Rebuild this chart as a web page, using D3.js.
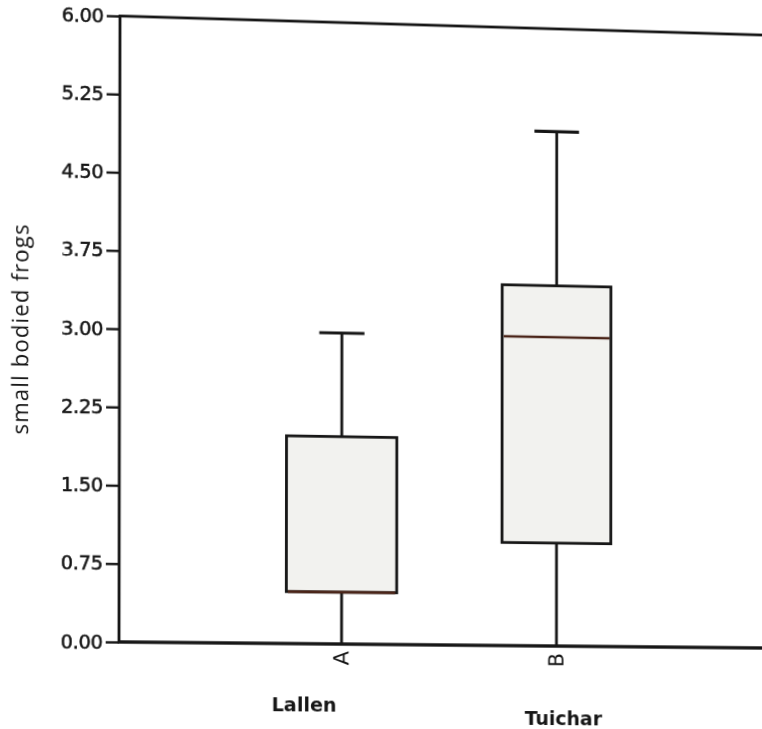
<!DOCTYPE html>
<html>
<head>
<meta charset="utf-8">
<script src="https://cdn.jsdelivr.net/npm/d3@7"></script>
<style>
  html, body { margin: 0; padding: 0; background: #ffffff; overflow: hidden; }
  svg { display: block; transform-origin: 0 0; }
</style>
</head>
<body>
<svg width="762" height="729"></svg>
<script>
// groups along x, with the site name written under each
const groups = ["A", "B"];
const sites = ["Lallen", "Tuichar"];

// box stats
const mins    = [0.00, 0.00];
const q1s     = [0.50, 1.00];
const medians = [0.50, 3.00];
const q3s     = [2.00, 3.50];
const maxs    = [3.00, 5.00];

const yTicks = [0, 0.75, 1.5, 2.25, 3, 3.75, 4.5, 5.25, 6];

const svg = d3.select("svg");

const plotL = 120, plotR = 779, plotT = 16, plotB = 642;

const x = d3.scaleBand()
    .domain(groups)
    .range([plotL - 3, plotR - 3])
    .paddingInner(0.49)
    .paddingOuter(0.78);

const y = d3.scaleLinear()
    .domain([0, 6])
    .range([plotB, plotT]);

const ink = "#161616";
const lw = 2.8;

// plot frame (right side falls off the page)
svg.append("rect")
    .attr("x", plotL)
    .attr("y", plotT)
    .attr("width", plotR - plotL)
    .attr("height", plotB - plotT)
    .attr("fill", "none")
    .attr("stroke", ink)
    .attr("stroke-width", lw);

// y axis
const yAxis = svg.append("g")
    .attr("transform", `translate(${plotL},0)`)
    .call(d3.axisLeft(y).tickValues(yTicks).tickFormat(d3.format(".2f")).tickSize(13).tickPadding(3));

yAxis.select(".domain").remove();
yAxis.selectAll("line").attr("stroke", ink).attr("stroke-width", 2.4);
yAxis.selectAll("text")
    .attr("fill", ink)
    .attr("stroke", ink)
    .attr("stroke-width", 0.5)
    .style("font-family", "DejaVu Sans, Verdana, sans-serif")
    .style("font-size", "19px")
    .style("letter-spacing", "-0.3px");

svg.append("text")
    .attr("transform", `translate(31,${(plotT + plotB) / 2 + 2}) rotate(-90)`)
    .attr("text-anchor", "middle")
    .attr("fill", ink)
    .style("font-family", "Open Sans, sans-serif")
    .style("font-size", "22px")
    .style("letter-spacing", "1.2px")
    .text("small bodied frogs");

// boxes
const boxes = groups.map((g, i) => ({
    g: g, site: sites[i],
    min: mins[i], q1: q1s[i], med: medians[i], q3: q3s[i], max: maxs[i]
}));

const bw = x.bandwidth();
const capW = bw * 0.41;

const box = svg.append("g").selectAll("g")
    .data(boxes)
    .enter()
    .append("g")
    .attr("transform", d => `translate(${x(d.g)},0)`);

// whiskers
box.append("line")
    .attr("x1", bw / 2).attr("x2", bw / 2)
    .attr("y1", d => y(d.q3)).attr("y2", d => y(d.max))
    .attr("stroke", ink).attr("stroke-width", lw);

box.append("line")
    .attr("x1", bw / 2).attr("x2", bw / 2)
    .attr("y1", d => y(d.q1)).attr("y2", d => y(d.min))
    .attr("stroke", ink).attr("stroke-width", lw);

box.append("line")
    .attr("x1", (bw - capW) / 2).attr("x2", (bw + capW) / 2)
    .attr("y1", d => y(d.max)).attr("y2", d => y(d.max))
    .attr("stroke", ink).attr("stroke-width", 3.2);

box.append("rect")
    .attr("x", 0)
    .attr("width", bw)
    .attr("y", d => y(d.q3))
    .attr("height", d => y(d.q1) - y(d.q3))
    .attr("fill", "#f2f2ef")
    .attr("stroke", ink)
    .attr("stroke-width", lw);

box.append("line")
    .attr("x1", 1.5).attr("x2", bw - 1.5)
    .attr("y1", d => y(d.med)).attr("y2", d => y(d.med))
    .attr("stroke", "#4a2418").attr("stroke-width", 2.6);

// redraw the base line over the whisker ends
svg.append("line")
    .attr("x1", plotL).attr("x2", plotR)
    .attr("y1", plotB).attr("y2", plotB)
    .attr("stroke", ink).attr("stroke-width", lw);

// group letters, turned on their side
svg.append("g").selectAll("text")
    .data(boxes)
    .enter()
    .append("text")
    .attr("transform", d => `translate(${x(d.g) + bw / 2 + 7},${plotB + 7}) rotate(-90)`)
    .attr("text-anchor", "end")
    .attr("fill", ink)
    .style("font-family", "DejaVu Sans, sans-serif")
    .style("font-size", "21px")
    .text(d => d.g);

// site names underneath
const siteOffset = [[-37, 68], [7, 80]];
svg.append("g").selectAll("text")
    .data(boxes)
    .enter()
    .append("text")
    .attr("x", (d, i) => x(d.g) + bw / 2 + siteOffset[i][0])
    .attr("y", (d, i) => plotB + siteOffset[i][1])
    .attr("text-anchor", "middle")
    .attr("fill", ink)
    .style("font-family", "DejaVu Sans, sans-serif")
    .style("font-size", "19px")
    .style("font-weight", "bold")
    .text(d => d.site);

// the reference is a photo of a printout, taken a little off square:
// warp the flat drawing onto the same four corners
function solve(A, b) {
    const n = b.length;
    for (let i = 0; i < n; i++) A[i].push(b[i]);
    for (let c = 0; c < n; c++) {
        let p = c;
        for (let r = c + 1; r < n; r++) if (Math.abs(A[r][c]) > Math.abs(A[p][c])) p = r;
        [A[c], A[p]] = [A[p], A[c]];
        for (let r = 0; r < n; r++) {
            if (r === c) continue;
            const f = A[r][c] / A[c][c];
            for (let k = c; k <= n; k++) A[r][k] -= f * A[c][k];
        }
    }
    return A.map((row, i) => row[n] / row[i]);
}

const src = [[plotL, plotT], [plotL, plotB], [762, plotT], [762, plotB]];
const dst = [[120, 16], [119, 642], [762, 35], [762, 648]];
const A = [], b = [];
src.forEach(([sx, sy], i) => {
    const [dx, dy] = dst[i];
    A.push([sx, sy, 1, 0, 0, 0, -sx * dx, -sy * dx]); b.push(dx);
    A.push([0, 0, 0, sx, sy, 1, -sx * dy, -sy * dy]); b.push(dy);
});
const h = solve(A, b);
svg.style("transform",
    `matrix3d(${h[0]},${h[3]},0,${h[6]},${h[1]},${h[4]},0,${h[7]},0,0,1,0,${h[2]},${h[5]},0,1)`);
</script>
</body>
</html>
